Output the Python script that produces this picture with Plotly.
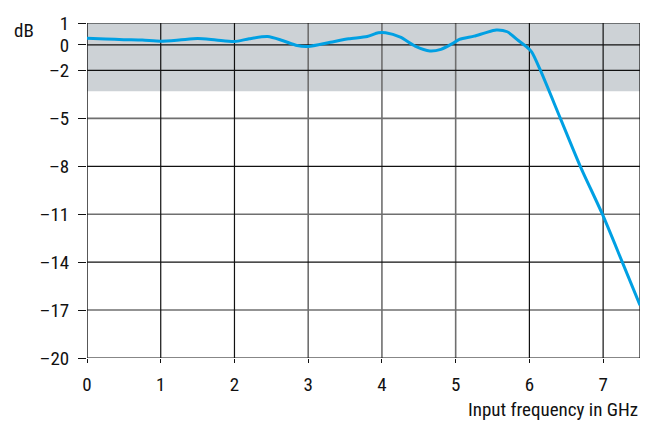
import numpy as np
import plotly.graph_objects as go

# ---- data ----
freq_ghz = [0.0, 0.25, 0.5, 0.75, 1.0, 1.25, 1.5, 1.75, 2.0, 2.2, 2.45, 2.65, 2.85, 3.0,
            3.3, 3.55, 3.8, 3.95, 4.05, 4.25, 4.45, 4.65, 4.8, 4.95, 5.05, 5.25, 5.4,
            5.55, 5.7, 5.85, 5.95, 6.03, 6.15, 6.42, 6.69, 6.99, 7.26, 7.5]
gain_db = [0.30, 0.27, 0.24, 0.22, 0.17, 0.22, 0.29, 0.22, 0.15, 0.28, 0.38, 0.20, -0.05, -0.12,
           0.12, 0.28, 0.38, 0.55, 0.55, 0.35, -0.10, -0.48, -0.35, 0.05, 0.25, 0.40, 0.55,
           0.68, 0.60, 0.20, -0.10, -0.55, -2.0, -5.0, -8.0, -11.0, -14.0, -16.7]

x_ticks = [0, 1, 2, 3, 4, 5, 6, 7]
y_ticks_db = [-20, -17, -14, -11, -8, -5, -2, 0, 1]
# the reference uses a non-uniform dB scale: axis units assigned to each tick
y_scale_units = [0, 3, 6, 9, 12, 15, 18, 19.6, 20.97]
band_db = [-3.3, 1]          # shaded region
x_range = [0, 7.5]

x_grid_dark = [1, 2, 6, 7, 7.5]
x_grid_grey = [3, 4, 5]
y_grid_dark = [1, 0, -2, -8, -14, -20]
y_grid_grey = [-5, -11, -17]


def to_axis(v):
    return np.interp(v, y_ticks_db, y_scale_units)


fig = go.Figure()

shapes = []
shapes.append(dict(type="rect", xref="x", yref="y", x0=x_range[0], x1=x_range[1],
                   y0=to_axis(band_db[0]), y1=to_axis(band_db[1]),
                   fillcolor="#cdd2d6", line=dict(width=0), layer="below"))
for xv in x_grid_grey:
    shapes.append(dict(type="line", xref="x", yref="y", x0=xv, x1=xv,
                       y0=to_axis(-20), y1=to_axis(1),
                       line=dict(color="#6f6f6f", width=1.6), layer="below"))
for yv in y_grid_grey:
    shapes.append(dict(type="line", xref="x", yref="y", x0=x_range[0], x1=x_range[1],
                       y0=to_axis(yv), y1=to_axis(yv),
                       line=dict(color="#6f6f6f", width=1.6), layer="below"))
for xv in x_grid_dark:
    shapes.append(dict(type="line", xref="x", yref="y", x0=xv, x1=xv,
                       y0=to_axis(-20), y1=to_axis(1),
                       line=dict(color="#111111", width=1.2), layer="below"))
for yv in y_grid_dark:
    shapes.append(dict(type="line", xref="x", yref="y", x0=x_range[0], x1=x_range[1],
                       y0=to_axis(yv), y1=to_axis(yv),
                       line=dict(color="#111111", width=1.2), layer="below"))
shapes.append(dict(type="line", xref="x", yref="y", x0=0, x1=0,
                   y0=to_axis(-20), y1=to_axis(1),
                   line=dict(color="#111111", width=1.4), layer="below"))

fig.add_trace(go.Scatter(
    x=freq_ghz, y=to_axis(gain_db), mode="lines",
    line=dict(color="#00a0e3", width=3, shape="spline", smoothing=0.7),
    hoverinfo="skip", showlegend=False, cliponaxis=True))

font_family = "Roboto Condensed, DejaVu Sans Condensed, sans-serif"

fig.update_layout(
    width=655, height=425,
    margin=dict(l=87, r=15, t=18, b=67),
    paper_bgcolor="white", plot_bgcolor="white",
    font=dict(family=font_family, size=19, color="#111111"),
    shapes=shapes,
    xaxis=dict(range=x_range, tickvals=x_ticks, ticktext=[str(t) for t in x_ticks],
               showgrid=False, zeroline=False, showline=False,
               ticks="outside", ticklen=4, tickcolor="#111111", tickwidth=1.2,
               ticklabelstandoff=5, fixedrange=True),
    yaxis=dict(range=[0, 20.97], tickvals=list(to_axis(y_ticks_db)),
               ticktext=[str(t).replace("-", "\u2013") for t in y_ticks_db],
               showgrid=False, zeroline=False, showline=False,
               ticks="outside", ticklen=8, tickcolor="#111111", tickwidth=1.2,
               ticklabelstandoff=5, fixedrange=True),
    annotations=[
        dict(text="dB", xref="paper", yref="paper", x=-0.114, y=0.978,
             xanchor="center", yanchor="middle", showarrow=False,
             font=dict(family=font_family, size=19)),
        dict(text="Input frequency in GHz", xref="paper", yref="paper", x=1.0, y=-0.155,
             xanchor="right", yanchor="middle", showarrow=False,
             font=dict(family=font_family, size=19)),
    ],
)

fig.write_html("out.html", config={"displayModeBar": False},
               post_script="document.body.style.margin='0';")
